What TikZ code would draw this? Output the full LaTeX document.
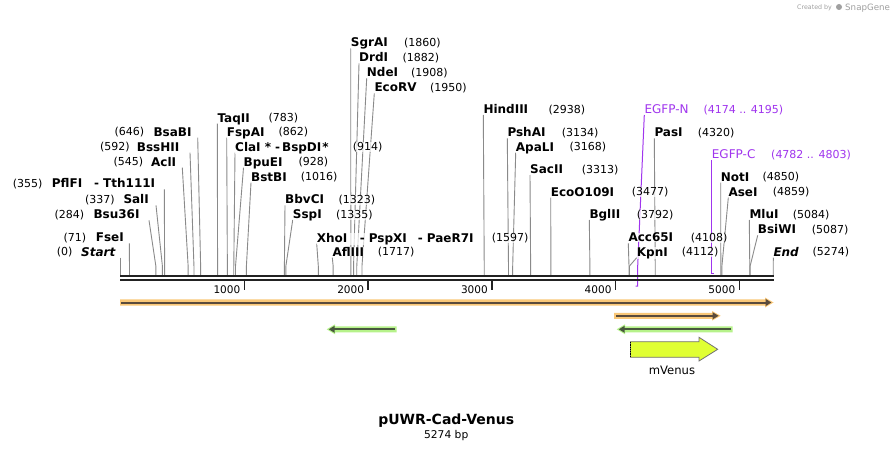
\documentclass[tikz,border=0pt]{standalone}
\usepackage{fontspec}
\setmainfont{DejaVu Sans}
\usetikzlibrary{arrows.meta}
\pgfdeclarelayer{back}
\pgfdeclarelayer{bg}
\pgfsetlayers{back,bg,main}
\definecolor{siteline}{HTML}{8A8A8A}
\definecolor{purp}{HTML}{A035EE}
\definecolor{bbone}{HTML}{222222}
\definecolor{orglow}{HTML}{FAC878}
\definecolor{orline}{HTML}{5A4B3C}
\definecolor{grglow}{HTML}{B6F28A}
\definecolor{grline}{HTML}{48573E}
\definecolor{venus}{HTML}{E0FF33}
\definecolor{credit}{HTML}{A0A0A0}
\tikzset{
  ename/.style={font=\fontsize{12}{14}\selectfont\bfseries, inner sep=0pt, anchor=base west, fill=white, fill opacity=0.7, text opacity=1},
  enum/.style={font=\fontsize{11}{13}\selectfont, inner sep=0pt, anchor=base west, fill=white, fill opacity=0.7, text opacity=1},
  pname/.style={font=\fontsize{12}{14}\selectfont, text=purp, inner sep=0pt, anchor=base west},
  pnum/.style={font=\fontsize{11}{13}\selectfont, text=purp, inner sep=0pt, anchor=base west},
  cutline/.style={draw=siteline, line width=0.9pt},
  primerline/.style={draw=purp, line width=1pt},
  backbone/.style={draw=bbone, line width=2pt},
  tickmark/.style={draw=bbone, line width=1.5pt},
  ticklabel/.style={font=\fontsize{10.5}{12}\selectfont, inner sep=0pt, anchor=base east},
  featline/.style={line width=2pt},
}
% right-side label: id, xname, yc, name, xnum, num, bp
\newcommand\RS[7]{%
  \coordinate (#1-top) at (#2,#3+6);
  \coordinate (#1-bend) at ({120.7+#7*0.12374},266);
  \coordinate (#1-site) at ({120.7+#7*0.12374},275.5);
  \begin{pgfonlayer}{bg}\draw[cutline] (#1-top) -- (#1-bend) -- (#1-site);\end{pgfonlayer}
  \node[ename] (#1-n) at (#2,#3+4.4) {#4};
  \node[enum] (#1-p) at (#5,#3+4.1) {#6};
}
% left-side label: id, xnum, yc, num, xname, name, xline, bp
\newcommand\LS[8]{%
  \coordinate (#1-top) at (#7,#3+6);
  \coordinate (#1-bend) at ({120.7+#8*0.12374},266);
  \coordinate (#1-site) at ({120.7+#8*0.12374},275.5);
  \begin{pgfonlayer}{bg}\draw[cutline] (#1-top) -- (#1-bend) -- (#1-site);\end{pgfonlayer}
  \node[enum] (#1-p) at (#2,#3+4.1) {#4};
  \node[ename] (#1-n) at (#5,#3+4.4) {#6};
}
\begin{document}
\begin{tikzpicture}[x=1pt,y=-1pt]
\useasboundingbox (0,0) rectangle (894,452);
\begin{pgfonlayer}{back}\fill[white] (0,0) rectangle (894,452);\end{pgfonlayer}

% credit
\node[font=\fontsize{6.3}{7}\selectfont, text=credit, inner sep=0pt, anchor=base west] (cred1) at (797,9.5) {Created by};
\node[font=\fontsize{8.7}{10}\selectfont, text=credit, inner sep=0pt, anchor=base west] (cred2) at (845,10.5) {SnapGene};
\fill[credit] (839,7) circle (3);

% right-side enzyme labels
\RS{sgrai}{350.7}{42.3}{SgrAI}{404}{(1860)}{1860}
\RS{drdi}{359}{57.3}{DrdI}{402.3}{(1882)}{1882}
\RS{ndei}{366.7}{72.3}{NdeI}{411}{(1908)}{1908}
\RS{ecorv}{374.3}{87.3}{EcoRV}{430}{(1950)}{1950}
\RS{taqii}{217.3}{117.7}{TaqII}{268.3}{(783)}{783}
\RS{fspai}{226.7}{131.7}{FspAI}{278.3}{(862)}{862}
\RS{clai}{235}{146.7}{ClaI *\hspace{4pt}-\hspace{2pt}BspDI\hspace{1pt}*}{352.7}{(914)}{914}
\RS{bpuei}{243.5}{161.7}{BpuEI}{298.3}{(928)}{928}
\RS{bstbi}{251}{176.7}{BstBI}{300.7}{(1016)}{1016}
\RS{bbvci}{285}{199.3}{BbvCI}{338.3}{(1323)}{1323}
\RS{sspi}{292.7}{214}{SspI}{336}{(1335)}{1335}
\RS{xhoi}{316.7}{237.7}{XhoI\hspace{12.5pt}-\hspace{4pt}PspXI\hspace{11pt}-\hspace{4pt}PaeR7I}{491.7}{(1597)}{1597}
\RS{afliii}{332.3}{251.7}{AflIII}{377.7}{(1717)}{1717}
\RS{hindiii}{483.3}{109}{HindIII}{548.3}{(2938)}{2938}
\RS{pshai}{507.3}{132.3}{PshAI}{561.7}{(3134)}{3134}
\RS{apali}{515.7}{146.7}{ApaLI}{569.3}{(3168)}{3168}
\RS{sacii}{530}{169}{SacII}{581.7}{(3313)}{3313}
\RS{ecoo}{550.7}{191.7}{EcoO109I}{631.7}{(3477)}{3477}
\RS{bglii}{589.3}{214}{BglII}{636.7}{(3792)}{3792}
\RS{acc}{628.3}{237.3}{Acc65I}{690.7}{(4108)}{4108}
\RS{kpni}{636.7}{251.7}{KpnI}{681.7}{(4112)}{4112}
\RS{pasi}{654.3}{132.3}{PasI}{697.7}{(4320)}{4320}
\RS{noti}{720.7}{176.7}{NotI}{762.3}{(4850)}{4850}
\RS{asei}{728.3}{191.7}{AseI}{772.7}{(4859)}{4859}
\RS{mlui}{749.3}{214}{MluI}{792.7}{(5084)}{5084}
\RS{bsiwi}{757.7}{229.3}{BsiWI}{811.7}{(5087)}{5087}
\RS{end}{773.3}{251.7}{\textit{End}}{812.3}{(5274)}{5274}

% left-side enzyme labels
\LS{bsabi}{114.3}{131.7}{(646)}{153.3}{BsaBI}{197.7}{646}
\LS{bsshii}{100}{146.7}{(592)}{136.7}{BssHII}{190}{592}
\LS{acli}{113.3}{161.7}{(545)}{151}{AclI}{182.3}{545}
\LS{pflfi}{12.7}{183.3}{(355)}{51.7}{PflFI\hspace{12pt}-\hspace{4pt}Tth111I}{164.3}{355}
\LS{sali}{85}{199.3}{(337)}{123.3}{SalI}{156}{337}
\LS{bsu}{54.3}{214.3}{(284)}{93.3}{Bsu36I}{149}{284}
\LS{fsei}{63.3}{237.3}{(71)}{95.7}{FseI}{129.3}{71}
\LS{start}{56.7}{251.7}{(0)}{81}{\textit{Start}}{120.7}{0}

% primers
\node[pname] (egfpn) at (644.3,113.4) {EGFP-N};
\node[pnum] (egfpn-p) at (703.3,113.1) {(4174 .. 4195)};
\coordinate (egfpn-top) at (644.3,115);
\coordinate (egfpn-bend) at (637.7,266);
\coordinate (egfpn-end) at (637.7,286);
\coordinate (egfpn-tick) at (635.6,286);
\begin{pgfonlayer}{bg}\draw[primerline] (egfpn-top) -- (egfpn-bend) -- (egfpn-end) -- (egfpn-tick);\end{pgfonlayer}
\node[pname] (egfpc) at (711.7,158.4) {EGFP-C};
\node[pnum] (egfpc-p) at (771,158.1) {(4782 .. 4803)};
\coordinate (egfpc-top) at (711.7,160);
\coordinate (egfpc-end) at (711.7,273.3);
\coordinate (egfpc-tick) at (713.8,273.3);
\begin{pgfonlayer}{bg}\draw[primerline] (egfpc-top) -- (egfpc-end) -- (egfpc-tick);\end{pgfonlayer}

% backbone
\coordinate (bb1l) at (120,276.3); \coordinate (bb1r) at (773.5,276.3);
\coordinate (bb2l) at (120,280.3); \coordinate (bb2r) at (773.5,280.3);
\draw[backbone] (bb1l) -- (bb1r);
\draw[backbone] (bb2l) -- (bb2r);

% ticks
\foreach \k in {1,...,5}{
  \pgfmathsetmacro\tx{120.7+\k*123.74}
  \draw[tickmark] (\tx,281) -- (\tx,289.5);
  \node[ticklabel] (tick\k) at (\tx-4,293.1) {\k000};
}

% full-length orange feature
\fill[orglow] (120,299.3) -- (765,299.3) -- (765,297.5) -- (773.5,302.5) -- (765,307.5) -- (765,305.7) -- (120,305.7) -- cycle;
\draw[orline, featline] (121,302.5) -- (767,302.5);
\fill[orline] (765.5,298.8) -- (771.3,302.5) -- (765.5,306.2) -- cycle;

% short orange feature
\fill[orglow] (614,312.8) -- (712,312.8) -- (712,311) -- (720.7,315.8) -- (712,320.6) -- (712,318.8) -- (614,318.8) -- cycle;
\draw[orline, featline] (616,315.8) -- (714,315.8);
\fill[orline] (712.7,312.3) -- (718.5,315.8) -- (712.7,319.3) -- cycle;

% green feature 1 (leftward)
\fill[grglow] (396.7,326.3) -- (335,326.3) -- (335,324.3) -- (326.7,329.3) -- (335,334.3) -- (335,332.3) -- (396.7,332.3) -- cycle;
\draw[grline, featline] (395,329.3) -- (333,329.3);
\fill[grline] (334.5,325.8) -- (328.8,329.3) -- (334.5,332.8) -- cycle;

% green feature 2 (leftward)
\fill[grglow] (732.7,326.3) -- (625,326.3) -- (625,324.3) -- (616.7,329.3) -- (625,334.3) -- (625,332.3) -- (732.7,332.3) -- cycle;
\draw[grline, featline] (731,329.3) -- (623,329.3);
\fill[grline] (624.5,325.8) -- (618.8,329.3) -- (624.5,332.8) -- cycle;

% mVenus
\filldraw[fill=venus, draw=black!55, line width=0.8pt] (630.5,341.7) -- (699,341.7) -- (699,337.3) -- (717.7,349.3) -- (699,361) -- (699,357.3) -- (630.5,357.3) -- cycle;
\draw[black, densely dotted, line width=0.8pt] (630.5,341.7) -- (630.5,357.3);
\node[font=\fontsize{11.6}{13}\selectfont, inner sep=0pt] (mvenus) at (672,370) {mVenus};

% title
\node[font=\fontsize{14}{16}\selectfont\bfseries, inner sep=0pt] (title) at (446.2,420.7) {pUWR-Cad-Venus};
\node[font=\fontsize{10.7}{12}\selectfont, inner sep=0pt] (bp) at (446.2,435.7) {5274 bp};
\end{tikzpicture}
\end{document}
